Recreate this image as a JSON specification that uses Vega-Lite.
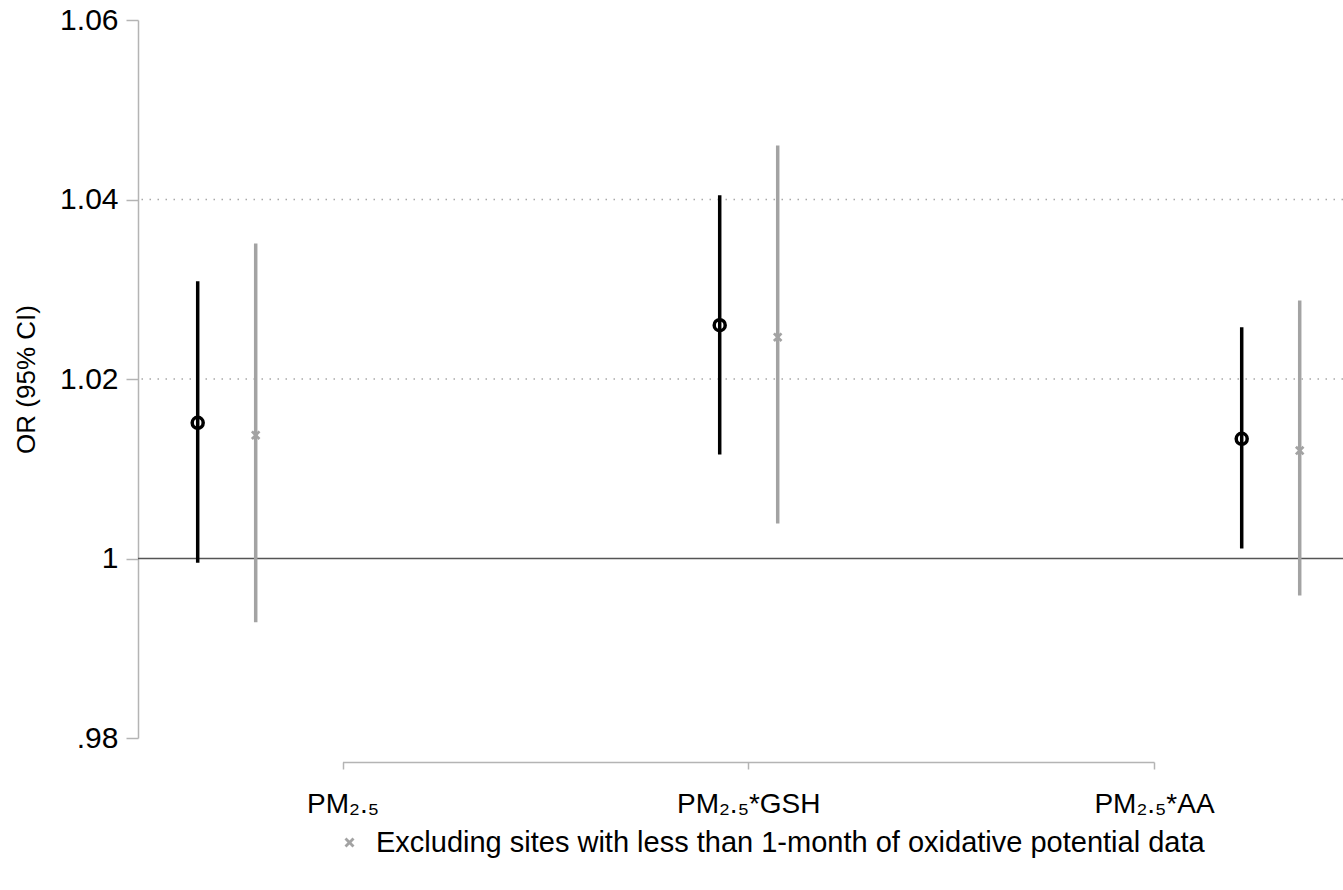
{
  "$schema": "https://vega.github.io/schema/vega-lite/v6.json",
  "autosize": "none",
  "width": 1205,
  "height": 718,
  "padding": {"left": 138, "top": 20, "right": 0, "bottom": 132},
  "background": "white",
  "config": {"view": {"stroke": null}, "font": "Liberation Sans"},
  "datasets": {
    "est": [
      {"term": "PM₂.₅", "series": "Main", "or": 1.01512, "lo": 0.99952, "hi": 1.0309},
      {"term": "PM₂.₅", "series": "Excluding sites with less than 1-month of oxidative potential data", "or": 1.01374, "lo": 0.9929, "hi": 1.0351},
      {"term": "PM₂.₅*GSH", "series": "Main", "or": 1.02599, "lo": 1.01159, "hi": 1.04048},
      {"term": "PM₂.₅*GSH", "series": "Excluding sites with less than 1-month of oxidative potential data", "or": 1.02466, "lo": 1.0039, "hi": 1.04602},
      {"term": "PM₂.₅*AA", "series": "Main", "or": 1.01334, "lo": 1.00111, "hi": 1.02577},
      {"term": "PM₂.₅*AA", "series": "Excluding sites with less than 1-month of oxidative potential data", "or": 1.01203, "lo": 0.99588, "hi": 1.02875}
    ],
    "grid": [{"v": 1.02}, {"v": 1.04}]
  },
  "resolve": {"scale": {"x": "independent"}, "axis": {"x": "independent"}},
  "layer": [
    {
      "layer": [
        {
          "data": {"name": "grid"},
          "mark": {"type": "rule", "color": "#a8a8a8", "strokeDash": [1.5, 6.5], "strokeWidth": 1.5},
          "encoding": {
            "y": {
              "field": "v", "type": "quantitative",
              "scale": {"domain": [0.98, 1.06], "nice": false, "zero": false},
              "axis": {
                "values": [0.98, 1, 1.02, 1.04, 1.06],
                "grid": false,
                "domainColor": "#b4b4b4",
                "domainWidth": 1.5,
                "tickColor": "#b4b4b4",
                "tickWidth": 1.5,
                "tickSize": 12,
                "labelFontSize": 30,
                "labelColor": "black",
                "labelPadding": 8,
                "labelExpr": "datum.value == 1 ? '1' : (datum.value < 1 ? '.' + substring(format(datum.value, '.2f'), 2) : format(datum.value, '.2f'))",
                "title": "OR (95% CI)",
                "titleFontSize": 26,
                "titleFontWeight": "normal",
                "titleColor": "black",
                "titlePadding": 20
              }
            }
          }
        },
        {
          "data": {"values": [{"v": 1}]},
          "mark": {"type": "rule", "color": "#555555", "strokeWidth": 1.5},
          "encoding": {"y": {"field": "v", "type": "quantitative"}}
        },
        {
          "data": {"name": "est"},
          "transform": [{"filter": "datum.series == 'Main'"}],
          "mark": {"type": "rule", "color": "black", "strokeWidth": 3.5},
          "encoding": {
            "x": {"field": "term", "type": "nominal", "scale": {"type": "band", "domain": ["PM₂.₅", "PM₂.₅*GSH", "PM₂.₅*AA"], "range": [30.7, 1190.7], "paddingInner": 0.7778, "paddingOuter": 0, "round": false}, "axis": null},
            "xOffset": {"field": "series", "type": "nominal", "scale": {"type": "point", "domain": ["Main", "Excluding sites with less than 1-month of oxidative potential data"], "range": [29, 87], "padding": 0}},
            "y": {"field": "lo", "type": "quantitative"},
            "y2": {"field": "hi"}
          }
        },
        {
          "data": {"name": "est"},
          "transform": [{"filter": "datum.series != 'Main'"}],
          "mark": {"type": "rule", "color": "#a3a3a3", "strokeWidth": 3.5},
          "encoding": {
            "x": {"field": "term", "type": "nominal", "axis": null},
            "xOffset": {"field": "series", "type": "nominal"},
            "y": {"field": "lo", "type": "quantitative"},
            "y2": {"field": "hi"}
          }
        },
        {
          "data": {"name": "est"},
          "transform": [{"filter": "datum.series == 'Main'"}],
          "mark": {"type": "point", "shape": "circle", "filled": false, "color": "black", "stroke": "black", "strokeWidth": 3.5, "size": 121, "opacity": 1, "strokeOpacity": 1},
          "encoding": {
            "x": {"field": "term", "type": "nominal", "axis": null},
            "xOffset": {"field": "series", "type": "nominal"},
            "y": {"field": "or", "type": "quantitative"}
          }
        },
        {
          "data": {"name": "est"},
          "transform": [{"filter": "datum.series != 'Main'"}],
          "mark": {"type": "point", "shape": "M-1,-0.6L-0.6,-1L0,-0.4L0.6,-1L1,-0.6L0.4,0L1,0.6L0.6,1L0,0.4L-0.6,1L-1,0.6L-0.4,0Z", "filled": true, "size": 90, "opacity": 1},
          "encoding": {
            "x": {"field": "term", "type": "nominal", "axis": null},
            "xOffset": {"field": "series", "type": "nominal"},
            "y": {"field": "or", "type": "quantitative"},
            "color": {
              "field": "series", "type": "nominal",
              "scale": {"domain": ["Excluding sites with less than 1-month of oxidative potential data"], "range": ["#a3a3a3"]},
              "legend": {
                "orient": "none",
                "legendX": 197,
                "legendY": 808,
                "title": null,
                "padding": 0,
                "labelFontSize": 29,
                "labelColor": "black",
                "labelOffset": 12,
                "labelLimit": 0,
                "symbolType": "M-1,-0.6L-0.6,-1L0,-0.4L0.6,-1L1,-0.6L0.4,0L1,0.6L0.6,1L0,0.4L-0.6,1L-1,0.6L-0.4,0Z",
                "symbolSize": 100,
                "symbolStrokeWidth": 0
              }
            }
          }
        }
      ]
    },
    {
      "data": {"name": "est"},
      "mark": {"type": "point", "opacity": 0},
      "encoding": {
        "x": {
          "field": "term", "type": "nominal",
          "scale": {"type": "point", "domain": ["PM₂.₅", "PM₂.₅*GSH", "PM₂.₅*AA"], "range": [204.5, 1016], "padding": 0},
          "axis": {
            "orient": "bottom",
            "offset": 24,
            "domain": true,
            "domainColor": "#b4b4b4",
            "domainWidth": 1.5,
            "tickColor": "#b4b4b4",
            "tickWidth": 1.5,
            "tickSize": 7,
            "labelAngle": 0,
            "labelFontSize": 28,
            "labelColor": "black",
            "labelPadding": 21,
            "title": null
          }
        }
      }
    }
  ]
}
